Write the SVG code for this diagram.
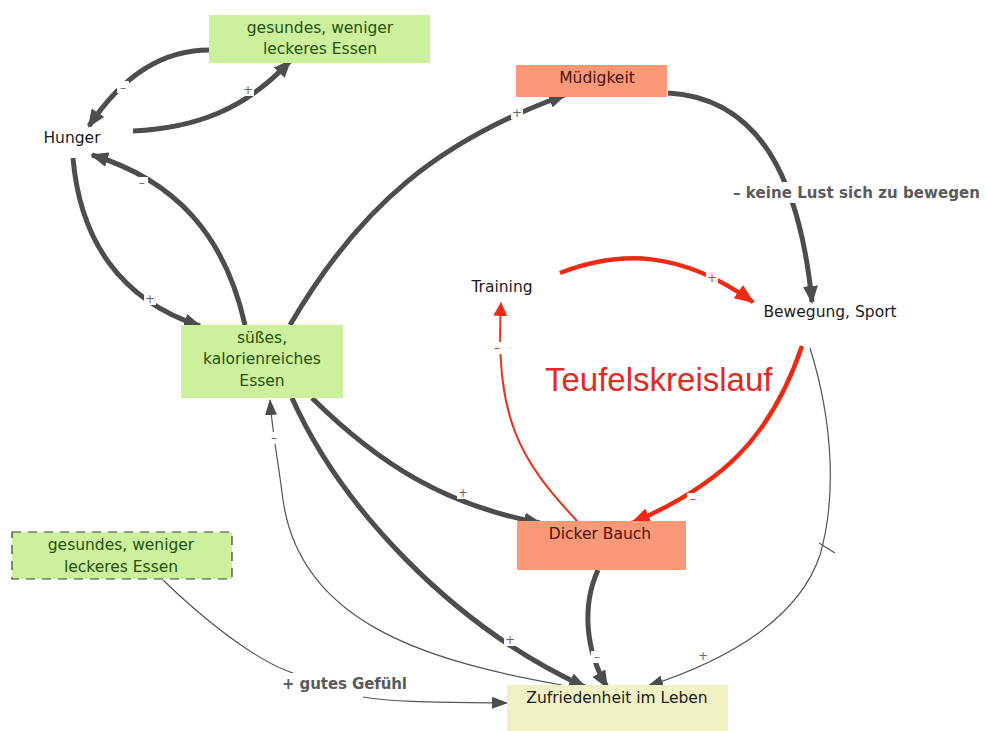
<svg xmlns="http://www.w3.org/2000/svg" width="986" height="731" viewBox="0 0 986 731">
  <defs>
    <style>
      .node-text { font-family: "DejaVu Sans", Verdana, sans-serif; font-size: 15.5px; text-anchor: middle; }
      .green { fill: #cdf09c; }
      .green-text { fill: #23520f; }
      .salmon { fill: #fa9878; }
      .salmon-text { fill: #4a1208; }
      .plain-text { fill: #1a1a1a; }
      .thick { fill: none; stroke: #4d4d4d; stroke-width: 5; stroke-linecap: butt; }
      .thin { fill: none; stroke: #555555; stroke-width: 1.2; }
      .red-thick { fill: none; stroke: #ee2a12; stroke-width: 4.5; }
      .red-thin { fill: none; stroke: #e8321c; stroke-width: 2; }
      .gap { fill: #ffffff; }
      .sign { font-family: "DejaVu Sans", Verdana, sans-serif; font-size: 12px; fill: #666666; text-anchor: middle; }
      .sign-red { fill: #e8321c; }
      .edge-label { font-family: "DejaVu Sans", Verdana, sans-serif; font-size: 15px; font-weight: bold; fill: #5a5a5a; }
    </style>
    <marker id="ah" markerUnits="userSpaceOnUse" markerWidth="18" markerHeight="15" refX="16" refY="7.5" orient="auto">
      <path d="M0,0 L18,7.5 L0,15 Z" fill="#4d4d4d"/>
    </marker>
    <marker id="ah-thin" markerUnits="userSpaceOnUse" markerWidth="16" markerHeight="12" refX="15" refY="6" orient="auto">
      <path d="M0,0 L16,6 L0,12 Z" fill="#4d4d4d"/>
    </marker>
    <marker id="ah-red" markerUnits="userSpaceOnUse" markerWidth="20" markerHeight="16" refX="18" refY="8" orient="auto">
      <path d="M0,0 L20,8 L0,16 Z" fill="#ee2a12"/>
    </marker>
    <marker id="ah-red-small" markerUnits="userSpaceOnUse" markerWidth="14" markerHeight="14" refX="13" refY="7" orient="auto">
      <path d="M0,0 L14,7 L0,14 Z" fill="#ee2a12"/>
    </marker>
  </defs>

  <rect width="986" height="731" fill="#ffffff"/>

  <!-- connectors -->
  <g id="connectors">
    <!-- healthy food -> hunger -->
    <path class="thick" d="M209,50 C165,50 125,72 89,126" marker-end="url(#ah)"/>
    <!-- hunger -> healthy food -->
    <path class="thick" d="M133,131 C195,128 245,110 290,61" marker-end="url(#ah)"/>
    <!-- hunger -> sweet food -->
    <path class="thick" d="M73,158 C80,240 120,300 200,326" marker-end="url(#ah)"/>
    <!-- sweet food -> hunger -->
    <path class="thick" d="M245,325 C225,235 175,180 92,155" marker-end="url(#ah)"/>
    <!-- sweet food -> tiredness -->
    <path class="thick" d="M290,325 C360,205 440,140 565,95" marker-end="url(#ah)"/>
    <!-- tiredness -> exercise -->
    <path class="thick" d="M668,93 C760,98 800,180 812,302" marker-end="url(#ah)"/>
    <!-- sweet food -> big belly -->
    <path class="thick" d="M312,398 C380,465 445,505 540,523" marker-end="url(#ah)"/>
    <!-- sweet food -> satisfaction -->
    <path class="thick" d="M292,398 C340,505 450,625 585,687" marker-end="url(#ah)"/>
    <!-- big belly -> satisfaction -->
    <path class="thick" d="M598,570 C582,605 585,650 607,687" marker-end="url(#ah)"/>
    <!-- exercise -> satisfaction -->
    <path class="thin" d="M810,348 C834,425 836,500 820,555 C800,615 735,658 648,686" marker-end="url(#ah-thin)"/>
    <line x1="819" y1="543" x2="835" y2="553" stroke="#555555" stroke-width="1.2"/>
    <!-- satisfaction -> sweet food -->
    <path class="thin" d="M562,685 C420,660 300,620 283,500 C278,460 272,430 270,400" marker-end="url(#ah-thin)"/>
    <!-- dashed healthy food -> satisfaction -->
    <path class="thin" d="M163,580 C220,635 270,668 300,675"/>
    <path class="thin" d="M363,697 C400,703 450,702 507,703" marker-end="url(#ah-thin)"/>

    <!-- vicious circle -->
    <path class="red-thick" d="M560,273 C620,250 680,250 753,302" marker-end="url(#ah-red)"/>
    <path class="red-thick" d="M802,346 C770,440 720,485 632,523" marker-end="url(#ah-red)"/>
    <path class="red-thin" d="M578,522 C520,460 495,420 501,303" marker-end="url(#ah-red-small)"/>

    <!-- gaps behind sign labels -->
    <rect class="gap" x="117" y="81" width="12" height="12"/>
    <rect class="gap" x="242" y="84" width="12" height="12"/>
    <rect class="gap" x="144" y="293" width="12" height="12"/>
    <rect class="gap" x="136" y="177" width="12" height="12"/>
    <rect class="gap" x="511" y="107" width="12" height="12"/>
    <rect class="gap" x="457" y="487" width="12" height="12"/>
    <rect class="gap" x="504" y="634" width="12" height="12"/>
    <rect class="gap" x="591" y="651" width="12" height="12"/>
    <rect class="gap" x="697" y="650" width="12" height="12"/>
    <rect class="gap" x="268" y="432" width="12" height="12"/>
    <rect class="gap" x="706" y="272" width="12" height="12"/>
    <rect class="gap" x="491" y="342" width="12" height="12"/>
    <rect class="gap" x="687" y="493" width="12" height="12"/>
    <rect class="gap" x="729" y="182" width="256" height="21"/>
    <rect class="gap" x="278" y="673" width="134" height="21"/>

    <!-- sign labels -->
    <text class="sign" x="123" y="92">–</text>
    <text class="sign" x="248" y="94">+</text>
    <text class="sign" x="150" y="303">+</text>
    <text class="sign" x="142" y="187">–</text>
    <text class="sign" x="517" y="117">+</text>
    <text class="sign" x="463" y="497">+</text>
    <text class="sign" x="510" y="644">+</text>
    <text class="sign" x="597" y="661">–</text>
    <text class="sign" x="703" y="660">+</text>
    <text class="sign" x="274" y="442">–</text>
    <text class="sign sign-red" x="712" y="282">+</text>
    <text class="sign sign-red" x="497" y="352">–</text>
    <text class="sign sign-red" x="693" y="503">–</text>

    <text class="edge-label" x="733" y="198" textLength="247">– keine Lust sich zu bewegen</text>
    <text class="edge-label" x="282" y="689" textLength="125">+ gutes Gefühl</text>
  </g>

  <!-- nodes -->
  <g id="healthy-food">
    <rect class="green" x="209" y="15" width="221" height="48"/>
    <text class="node-text green-text" x="320" y="33">gesundes, weniger</text>
    <text class="node-text green-text" x="320" y="54">leckeres Essen</text>
  </g>

  <g id="hunger">
    <text class="node-text plain-text" x="72" y="143">Hunger</text>
  </g>

  <g id="tiredness">
    <rect class="salmon" x="516" y="65" width="151" height="32"/>
    <text class="node-text salmon-text" x="597" y="83">Müdigkeit</text>
  </g>

  <g id="sweet-food">
    <rect class="green" x="181" y="325" width="162" height="73"/>
    <text class="node-text green-text" x="262" y="343">süßes,</text>
    <text class="node-text green-text" x="262" y="364">kalorienreiches</text>
    <text class="node-text green-text" x="262" y="386">Essen</text>
  </g>

  <g id="training">
    <text class="node-text plain-text" x="502" y="292">Training</text>
  </g>

  <g id="exercise">
    <text class="node-text plain-text" x="830" y="317">Bewegung, Sport</text>
  </g>

  <g id="vicious-circle">
    <text x="545" y="391" style="font-family:'Liberation Sans', Arial, sans-serif; font-size:33px; fill:#e02a24">Teufelskreislauf</text>
  </g>

  <g id="big-belly">
    <rect class="salmon" x="517" y="521" width="169" height="49"/>
    <text class="node-text salmon-text" x="600" y="539">Dicker Bauch</text>
  </g>

  <g id="healthy-food-dashed">
    <rect class="green" x="12" y="532" width="220" height="47" stroke="#3a3a3a" stroke-width="1.2" stroke-dasharray="9,7"/>
    <text class="node-text green-text" x="121" y="550">gesundes, weniger</text>
    <text class="node-text green-text" x="121" y="572">leckeres Essen</text>
  </g>

  <g id="satisfaction">
    <rect x="507" y="685" width="221" height="46" fill="#f0f2c6"/>
    <text class="node-text plain-text" x="617" y="703">Zufriedenheit im Leben</text>
  </g>
</svg>
